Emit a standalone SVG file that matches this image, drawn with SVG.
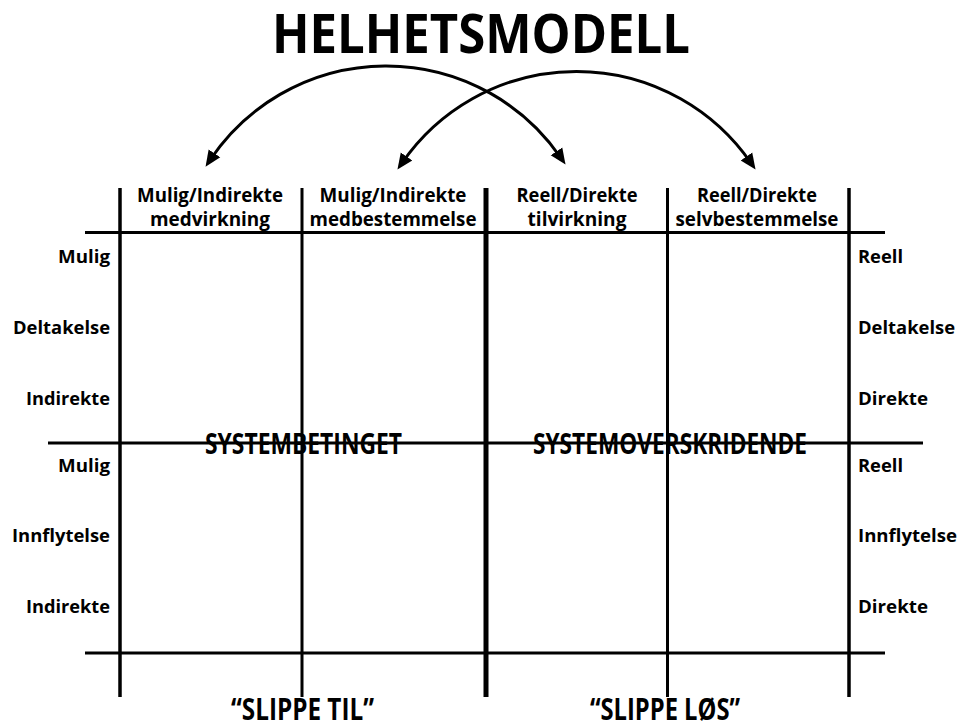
<svg xmlns="http://www.w3.org/2000/svg" width="960" height="724" viewBox="0 0 960 724">
<defs>
<style>
text{font-family:"Open Sans","Noto Sans","Liberation Sans",sans-serif;font-weight:700;fill:#000}
.title{font-size:54px}
.hdr{font-size:19px;text-anchor:middle}
.rl{font-size:17.5px;text-anchor:end}
.rr{font-size:17.5px;text-anchor:start}
.big{font-size:29px;text-anchor:start}
.foot{font-size:30px;text-anchor:start}
.thin{stroke:#000;stroke-width:3;fill:none}
.mid{stroke:#000;stroke-width:3.5;fill:none}
.thick{stroke:#000;stroke-width:5;fill:none}
.arc{stroke:#000;stroke-width:3;fill:none;marker-start:url(#ah);marker-end:url(#ah)}
</style>
<marker id="ah" markerUnits="userSpaceOnUse" markerWidth="18" markerHeight="16" refX="8" refY="7" orient="auto-start-reverse" viewBox="0 0 18 14">
<path d="M0,0 L16,7 L0,14 z" fill="#000"/>
</marker>
</defs>
<rect width="960" height="724" fill="#fff"/>

<g id="title"><text class="title" x="272" y="53" textLength="418" lengthAdjust="spacingAndGlyphs">HELHETSMODELL</text></g>

<g id="connectors">
<path class="arc" d="M210 160 A 212 212 0 0 1 561 158"/>
<path class="arc" d="M402 163 A 212 212 0 0 1 751 163"/>
</g>

<g id="grid">
<line class="thin" x1="85" y1="232.5" x2="885" y2="232.5"/>
<line class="thin" x1="48" y1="443" x2="923" y2="443"/>
<line class="thin" x1="85" y1="653" x2="885" y2="653"/>
<line class="mid" x1="120" y1="188" x2="120" y2="697"/>
<line class="thin" x1="302" y1="188" x2="302" y2="697"/>
<line class="thick" x1="486" y1="188" x2="486" y2="697"/>
<line class="thin" x1="667.5" y1="188" x2="667.5" y2="697"/>
<line class="mid" x1="849" y1="188" x2="849" y2="697"/>
</g>

<g id="col1"><text class="hdr" x="210" y="202" textLength="146" lengthAdjust="spacingAndGlyphs">Mulig/Indirekte</text><text class="hdr" x="210" y="226" textLength="120" lengthAdjust="spacingAndGlyphs">medvirkning</text></g>
<g id="col2"><text class="hdr" x="393" y="202" textLength="147" lengthAdjust="spacingAndGlyphs">Mulig/Indirekte</text><text class="hdr" x="393" y="226" textLength="167" lengthAdjust="spacingAndGlyphs">medbestemmelse</text></g>
<g id="col3"><text class="hdr" x="577" y="202" textLength="121" lengthAdjust="spacingAndGlyphs">Reell/Direkte</text><text class="hdr" x="577" y="226" textLength="99" lengthAdjust="spacingAndGlyphs">tilvirkning</text></g>
<g id="col4"><text class="hdr" x="757" y="202" textLength="120" lengthAdjust="spacingAndGlyphs">Reell/Direkte</text><text class="hdr" x="757" y="226" textLength="163" lengthAdjust="spacingAndGlyphs">selvbestemmelse</text></g>

<g id="left-labels">
<text class="rl" x="110" y="263" textLength="52" lengthAdjust="spacingAndGlyphs">Mulig</text>
<text class="rl" x="110" y="334" textLength="97" lengthAdjust="spacingAndGlyphs">Deltakelse</text>
<text class="rl" x="110" y="405" textLength="84" lengthAdjust="spacingAndGlyphs">Indirekte</text>
<text class="rl" x="110" y="472" textLength="52" lengthAdjust="spacingAndGlyphs">Mulig</text>
<text class="rl" x="110" y="542" textLength="98" lengthAdjust="spacingAndGlyphs">Innflytelse</text>
<text class="rl" x="110" y="613" textLength="84" lengthAdjust="spacingAndGlyphs">Indirekte</text>
</g>
<g id="right-labels">
<text class="rr" x="858" y="263" textLength="45" lengthAdjust="spacingAndGlyphs">Reell</text>
<text class="rr" x="858" y="334" textLength="97" lengthAdjust="spacingAndGlyphs">Deltakelse</text>
<text class="rr" x="858" y="405" textLength="70" lengthAdjust="spacingAndGlyphs">Direkte</text>
<text class="rr" x="858" y="472" textLength="45" lengthAdjust="spacingAndGlyphs">Reell</text>
<text class="rr" x="858" y="542" textLength="99" lengthAdjust="spacingAndGlyphs">Innflytelse</text>
<text class="rr" x="858" y="613" textLength="70" lengthAdjust="spacingAndGlyphs">Direkte</text>
</g>

<g id="systembetinget"><text class="big" x="205" y="454" textLength="197" lengthAdjust="spacingAndGlyphs">SYSTEMBETINGET</text></g>
<g id="systemoverskridende"><text class="big" x="533" y="454" textLength="274" lengthAdjust="spacingAndGlyphs">SYSTEMOVERSKRIDENDE</text></g>

<g id="slippe-til"><text class="foot" x="231" y="720" textLength="143" lengthAdjust="spacingAndGlyphs">“SLIPPE TIL”</text></g>
<g id="slippe-los"><text class="foot" x="590" y="720" textLength="150" lengthAdjust="spacingAndGlyphs">“SLIPPE LØS”</text></g>
</svg>
